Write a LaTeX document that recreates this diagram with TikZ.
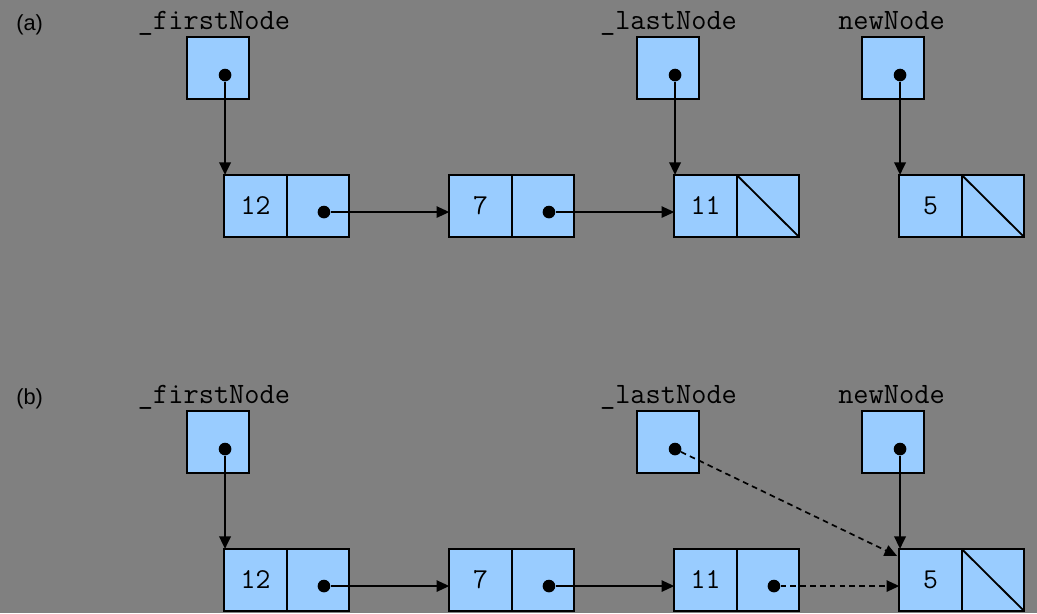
\documentclass[tikz,border=0pt]{standalone}
\usepackage{fontspec}
\setmainfont{Liberation Sans}
\usepackage{tikz}
\usetikzlibrary{positioning,arrows.meta}
\definecolor{slate}{HTML}{808080}
\definecolor{cellblue}{HTML}{99CCFF}
\tikzstyle{cell}=[rectangle,fill=cellblue,draw=black,line width=1.3pt,minimum width=1.56cm,minimum height=1.55cm,inner sep=0pt,outer sep=0pt,font=\fontsize{20.5}{22}\selectfont\ttfamily]
\tikzstyle{ptrbox}=[cell,minimum width=1.55cm]
\tikzstyle{dot}=[circle,fill=black,inner sep=0pt,minimum size=9pt]
\tikzstyle{varname}=[anchor=base,inner sep=0pt,font=\fontsize{21}{24}\selectfont\ttfamily]
\tikzstyle{panel}=[anchor=base west,inner sep=0pt,font=\fontsize{15.5}{18}\selectfont]
\tikzstyle{mypath}=[-{Triangle[length=9pt,width=8pt]},line width=1.2pt]
\tikzstyle{downpath}=[mypath,line width=2pt]
\tikzstyle{newpath}=[mypath,dash pattern=on 4pt off 3pt]
\tikzstyle{nullref}=[line width=1.3pt]

\begin{document}
\begin{tikzpicture}[x=0.025cm,y=-0.025cm]
        \fill[slate] (0,0) rectangle (1037,613);
        \useasboundingbox (0,0) rectangle (1037,613);

        % (a) before
        \node[panel] (pa) at (16,30) {(a)};
        \node[varname] (afirstname) at (214,29) {\_firstNode};
        \node[varname] (alastname) at (668.5,29) {\_lastNode};
        \node[varname] (anewname) at (891.5,29) {newNode};

        \node[ptrbox] (afirst) at (218,68) {};
        \node[ptrbox] (alast) at (668,68) {};
        \node[ptrbox] (anew) at (893,68) {};
        \node[dot] (afirstdot) at ([xshift=5pt,yshift=-5pt]afirst.center) {};
        \node[dot] (alastdot) at ([xshift=5pt,yshift=-5pt]alast.center) {};
        \node[dot] (anewdot) at ([xshift=5pt,yshift=-5pt]anew.center) {};

        \node[cell] (a12) at (255.5,206) {12};
        \node[cell,right=0pt of a12] (a12next) {};
        \node[cell] (a7) at (480.5,206) {7};
        \node[cell,right=0pt of a7] (a7next) {};
        \node[cell] (a11) at (705.5,206) {11};
        \node[cell,right=0pt of a11] (a11next) {};
        \node[cell] (a5) at (930.5,206) {5};
        \node[cell,right=0pt of a5] (a5next) {};
        \node[dot] (a12dot) at ([xshift=4.3pt,yshift=-4.3pt]a12next.center) {};
        \node[dot] (a7dot) at ([xshift=4.3pt,yshift=-4.3pt]a7next.center) {};
        \draw[nullref] (a11next.north west) -- (a11next.south east);
        \draw[nullref] (a5next.north west) -- (a5next.south east);

        \draw[downpath] (afirstdot) -- (afirstdot |- a12.north);
        \draw[downpath] (alastdot) -- (alastdot |- a11.north);
        \draw[downpath] (anewdot) -- (anewdot |- a5.north);
        \draw[mypath] (a12dot) -- (a12dot -| a7.west);
        \draw[mypath] (a7dot) -- (a7dot -| a11.west);

        % (b) after
        \node[panel] (pb) at (16,404) {(b)};
        \node[varname] (bfirstname) at (214,403) {\_firstNode};
        \node[varname] (blastname) at (668.5,403) {\_lastNode};
        \node[varname] (bnewname) at (891.5,403) {newNode};

        \node[ptrbox] (bfirst) at (218,442) {};
        \node[ptrbox] (blast) at (668,442) {};
        \node[ptrbox] (bnew) at (893,442) {};
        \node[dot] (bfirstdot) at ([xshift=5pt,yshift=-5pt]bfirst.center) {};
        \node[dot] (blastdot) at ([xshift=5pt,yshift=-5pt]blast.center) {};
        \node[dot] (bnewdot) at ([xshift=5pt,yshift=-5pt]bnew.center) {};

        \node[cell] (b12) at (255.5,580) {12};
        \node[cell,right=0pt of b12] (b12next) {};
        \node[cell] (b7) at (480.5,580) {7};
        \node[cell,right=0pt of b7] (b7next) {};
        \node[cell] (b11) at (705.5,580) {11};
        \node[cell,right=0pt of b11] (b11next) {};
        \node[cell] (b5) at (930.5,580) {5};
        \node[cell,right=0pt of b5] (b5next) {};
        \node[dot] (b12dot) at ([xshift=4.3pt,yshift=-4.3pt]b12next.center) {};
        \node[dot] (b7dot) at ([xshift=4.3pt,yshift=-4.3pt]b7next.center) {};
        \node[dot] (b11dot) at ([xshift=4.3pt,yshift=-4.3pt]b11next.center) {};
        \draw[nullref] (b5next.north west) -- (b5next.south east);

        \draw[downpath] (bfirstdot) -- (bfirstdot |- b12.north);
        \draw[downpath] (bnewdot) -- (bnewdot |- b5.north);
        \draw[mypath] (b12dot) -- (b12dot -| b7.west);
        \draw[mypath] (b7dot) -- (b7dot -| b11.west);
        \draw[newpath] (blastdot) -- ([xshift=-1.5pt,yshift=-5pt]b5.north west);
        \draw[newpath] (b11dot) -- (b11dot -| b5.west);
\end{tikzpicture}
\end{document}
